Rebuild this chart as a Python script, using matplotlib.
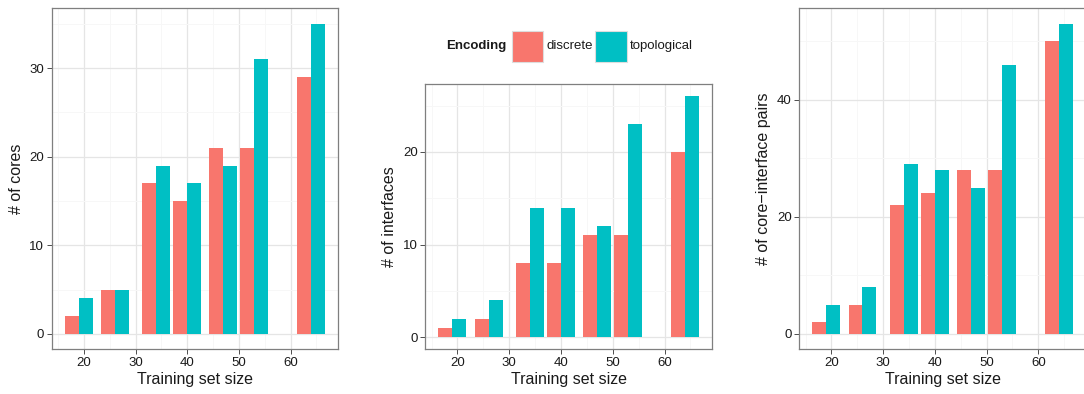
import numpy as np
import matplotlib
matplotlib.use("Agg")
import matplotlib.pyplot as plt
from matplotlib.patches import Rectangle

# Training set sizes and counts per encoding
sizes = [19, 26, 34, 40, 47, 53, 64]
encodings = ["discrete", "topological"]
colors = ["#F8766D", "#00BFC4"]

cores_discrete = [2, 5, 17, 15, 21, 21, 29]
cores_topological = [4, 5, 19, 17, 19, 31, 35]

interfaces_discrete = [1, 2, 8, 8, 11, 11, 20]
interfaces_topological = [2, 4, 14, 14, 12, 23, 26]

pairs_discrete = [2, 5, 22, 24, 28, 28, 50]
pairs_topological = [5, 8, 29, 28, 25, 46, 53]

panels = [
    ("# of cores", cores_discrete, cores_topological, [0, 10, 20, 30], [5, 15, 25, 35]),
    ("# of interfaces", interfaces_discrete, interfaces_topological, [0, 10, 20], [5, 15, 25]),
    ("# of core\u2212interface pairs", pairs_discrete, pairs_topological, [0, 20, 40], [10, 30, 50]),
]

plt.rcParams["font.family"] = ["Liberation Sans", "DejaVu Sans"]

W, H = 1084, 394
fig = plt.figure(figsize=(W / 100, H / 100), dpi=100)

# axes boxes in pixels: (left, top, right, bottom)
boxes = [
    (51.7, 8.3, 338.3, 349.3),
    (425.3, 84.3, 712.3, 349.3),
    (799.3, 8.3, 1086.0, 349.3),
]

x = np.array(sizes, dtype=float)
width = 0.9 * np.min(np.diff(x)) / 2

text_col = "#1a1a1a"
for (ylabel, disc, topo, yticks, yminor), (l, t, r, b) in zip(panels, boxes):
    ax = fig.add_axes([l / W, 1 - b / H, (r - l) / W, (b - t) / H])
    ax.bar(x - width / 2, disc, width=width, color=colors[0], linewidth=0, zorder=3)
    ax.bar(x + width / 2, topo, width=width, color=colors[1], linewidth=0, zorder=3)
    ax.use_sticky_edges = False
    ax.margins(x=0.05, y=0.05)

    ax.set_xticks([20, 30, 40, 50, 60])
    ax.set_xticks([15, 25, 35, 45, 55, 65], minor=True)
    ax.set_yticks(yticks)
    ax.set_yticks(yminor, minor=True)
    ax.grid(which="major", color="#E5E5E5", linewidth=0.9, zorder=0)
    ax.grid(which="minor", color="#F7F7F7", linewidth=0.7, zorder=0)
    ax.set_axisbelow(True)
    ax.tick_params(which="major", length=3.5, width=0.7, color="#4d4d4d",
                   labelsize=9.5, labelcolor=text_col, pad=2)
    ax.tick_params(which="minor", length=0)
    for sp in ax.spines.values():
        sp.set_color("#7F7F7F")
        sp.set_linewidth(0.9)
    ax.set_xlabel("Training set size", fontsize=11.5, color=text_col, labelpad=2)
    ax.set_ylabel(ylabel, fontsize=11.5, color=text_col, labelpad=4)

# Legend drawn across the top of the middle panel
kw, kh = 31.6, 31.3
ky = 30.7
for i, (name, c, kx, tx) in enumerate(zip(encodings, colors, [511.7, 595.3], [546.7, 630.0])):
    fig.add_artist(Rectangle((kx / W, 1 - (ky + kh) / H), kw / W, kh / H,
                             facecolor=c, edgecolor="#DDDDDD", linewidth=0.8,
                             transform=fig.transFigure))
    fig.text(tx / W, 1 - 46.4 / H, name, fontsize=9.5, color=text_col,
             ha="left", va="center")
fig.text(506.7 / W, 1 - 46.4 / H, "Encoding", fontsize=9.5, fontweight="bold",
         color=text_col, ha="right", va="center")

fig.savefig("out.png", dpi=100)
